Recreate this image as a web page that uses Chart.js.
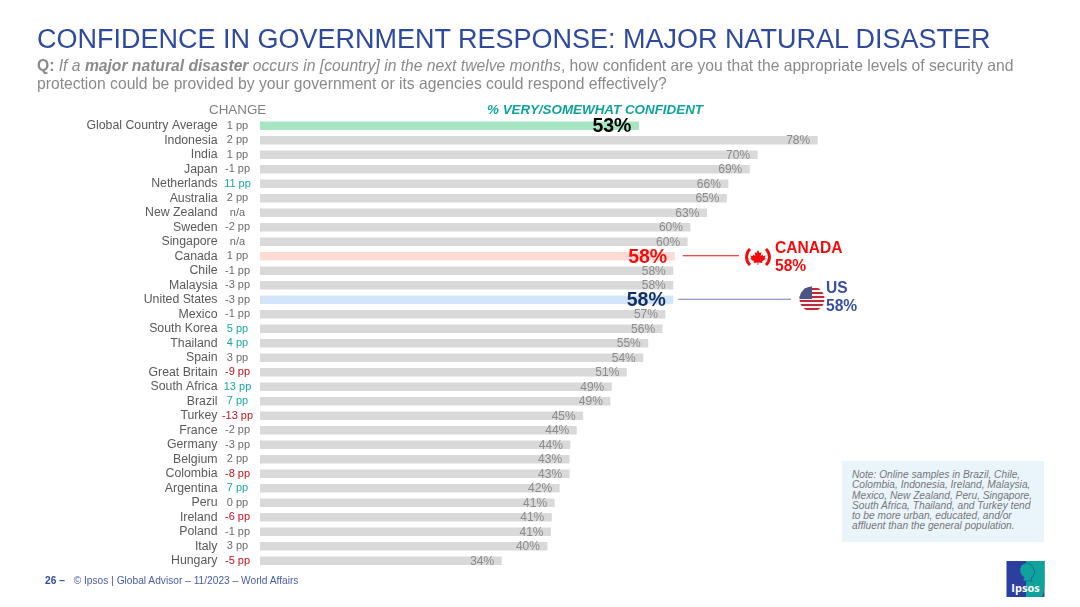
<!DOCTYPE html>
<html lang="en">

<head>
    <meta charset="UTF-8">
    <title>Confidence in government response: major natural disaster</title>
    <script src="https://cdn.jsdelivr.net/npm/chart.js"></script>
    <style>
        body { margin: 0; background: #fff; font-family: "Liberation Sans", Arial, sans-serif; }
        #page { position: relative; width: 1080px; height: 607px; overflow: hidden; }
        #chart { position: absolute; left: 0; top: 0; }
        .abs { position: absolute; white-space: nowrap; }
        #title { left: 37px; top: 24px; font-size: 27px; line-height: 30px; color: #2e4a9e; }
        #question { left: 37px; top: 57px; font-size: 15.67px; line-height: 18px; color: #8a8a8a; }
        #changeHead { left: 209px; top: 103px; font-size: 13.4px; line-height: 14px; color: #7f7f7f; }
        #valueHead { left: 487px; top: 103px; font-size: 13.4px; line-height: 14px; color: #0fa39b; font-weight: bold; font-style: italic; }
        .callout { font-size: 15.6px; line-height: 18px; font-weight: bold; }
        #canada { left: 775px; top: 239px; color: #f20d0d; }
        #us { left: 826px; top: 279px; color: #3a4f9f; }
        #note { left: 842px; top: 461px; width: 192px; height: 72px; padding: 9px 0 0 10px; background: #eaf4fb; color: #777; font-size: 10.2px; line-height: 10.3px; font-style: italic; }
        #footer { left: 45px; top: 575px; font-size: 10.2px; line-height: 12px; color: #4a5ca8; }
        #footer b { color: #2e4a9e; margin-right: 6px; }
    </style>
</head>

<body>
    <div id="page">
        <canvas id="chart" width="1080" height="607"></canvas>

        <div class="abs" id="title">CONFIDENCE IN GOVERNMENT RESPONSE: MAJOR NATURAL DISASTER</div>
        <div class="abs" id="question"><b>Q:</b> <i>If a <b>major natural disaster</b> occurs in [country] in the next twelve months</i>, how confident are you that the appropriate levels of security and<br>protection could be provided by your government or its agencies could respond effectively?</div>
        <div class="abs" id="changeHead">CHANGE</div>
        <div class="abs" id="valueHead">% VERY/SOMEWHAT CONFIDENT</div>

        <div class="abs callout" id="canada">CANADA<br>58%</div>
        <div class="abs callout" id="us">US<br>58%</div>

        <!-- flags -->
        <svg class="abs" style="left:745px;top:248px" width="26" height="18" viewBox="0 0 26 18">
            <path d="M5 1 A11 11 0 0 0 5 17" fill="none" stroke="#f20d0d" stroke-width="3" />
            <path d="M21 1 A11 11 0 0 1 21 17" fill="none" stroke="#f20d0d" stroke-width="3" />
            <path d="M13 2 L14.6 5 L16.4 4.2 L15.7 8 L17.6 6.4 L18.2 7.9 L20.6 7.5 L19.7 10 L20.8 10.7 L17 13.6 L17.4 15 L13.4 14.5 L13.4 17 L12.6 17 L12.6 14.5 L8.6 15 L9 13.6 L5.2 10.7 L6.3 10 L5.4 7.5 L7.8 7.9 L8.4 6.4 L10.3 8 L9.6 4.2 L11.4 5 Z" fill="#f20d0d" />
        </svg>
        <svg class="abs" style="left:799px;top:286px" width="26" height="26" viewBox="0 0 26 26">
            <defs><clipPath id="round"><circle cx="13" cy="13" r="12.5" /></clipPath></defs>
            <g clip-path="url(#round)">
                <rect width="26" height="26" fill="#f4f0f0" />
                <rect y="2" width="26" height="2" fill="#c0283c" />
                <rect y="6" width="26" height="2" fill="#c0283c" />
                <rect y="10" width="26" height="2" fill="#c0283c" />
                <rect y="14" width="26" height="2" fill="#c0283c" />
                <rect y="18" width="26" height="2" fill="#c0283c" />
                <rect y="22" width="26" height="2" fill="#c0283c" />
                <rect width="13" height="13" fill="#4a5585" />
            </g>
        </svg>

        <div class="abs" id="note">Note: Online samples in Brazil, Chile,<br>Colombia, Indonesia, Ireland, Malaysia,<br>Mexico, New Zealand, Peru, Singapore,<br>South Africa, Thailand, and Turkey tend<br>to be more urban, educated, and/or<br>affluent than the general population.</div>

        <div class="abs" id="footer"><b>26 –</b> © Ipsos | Global Advisor – 11/2023 – World Affairs</div>

        <!-- logo -->
        <svg class="abs" style="left:1006px;top:561px" width="39" height="36" viewBox="0 0 39 36">
            <rect x="0.5" width="38" height="36" fill="#2d3f9e" />
            <path d="M20 0 H38.5 V24 Q38 32 36 36 H20 Z" fill="#0fa39b" />
            <path d="M20 2 Q13 3 14 11 Q15 15 18 16 L17 20 H26 L25 17 Q28 16 28 13 L29 11 L28 9 Q27 3 20 2 Z" fill="#0fa39b" stroke="#2d3f9e" stroke-width="0.6" />
            <text x="19.5" y="30.5" text-anchor="middle" fill="#fff" font-size="11" font-weight="bold" font-family="Open Sans, Liberation Sans">Ipsos</text>
        </svg>
    </div>

    <script>
        const countries = ["Global Country Average", "Indonesia", "India", "Japan", "Netherlands", "Australia", "New Zealand", "Sweden", "Singapore", "Canada", "Chile", "Malaysia", "United States", "Mexico", "South Korea", "Thailand", "Spain", "Great Britain", "South Africa", "Brazil", "Turkey", "France", "Germany", "Belgium", "Colombia", "Argentina", "Peru", "Ireland", "Poland", "Italy", "Hungary"];

        // bar lengths as measured, the printed labels are rounded differently
        const barValues = [53, 78, 69.6, 68.5, 65.5, 65.3, 62.5, 60.2, 59.8, 58, 57.8, 57.8, 57.8, 56.7, 56.3, 54.3, 53.6, 51.3, 49.2, 49, 45.2, 44.3, 43.4, 43.3, 43.3, 41.9, 41.2, 40.8, 40.7, 40.2, 33.8];
        const printedValues = [53, 78, 70, 69, 66, 65, 63, 60, 60, 58, 58, 58, 58, 57, 56, 55, 54, 51, 49, 49, 45, 44, 44, 43, 43, 42, 41, 41, 41, 40, 34];
        const changes = [1, 2, 1, -1, 11, 2, null, -2, null, 1, -1, -3, -3, -1, 5, 4, 3, -9, 13, 7, -13, -2, -3, 2, -8, 7, 0, -6, -1, 3, -5];

        const barFills = { "Global Country Average": "#a6e6c3", "Canada": "#fddcd5", "United States": "#d3e5fb" };
        const bigLabels = { "Global Country Average": "#000000", "Canada": "#f20d0d", "United States": "#12305f" };

        function changeColor(c) {
            if (c === null) return "#6b6b6b";
            if (c >= 4) return "#1aa6a0";
            if (c <= -4) return "#c0141e";
            return "#6b6b6b";
        }

        // change column, value labels and the two callout lines
        const extras = {
            id: "extras",
            afterDatasetsDraw(chart) {
                const ctx = chart.ctx;
                const bars = chart.getDatasetMeta(0).data;
                ctx.save();
                ctx.textBaseline = "middle";
                bars.forEach((bar, i) => {
                    const big = bigLabels[countries[i]];
                    ctx.textAlign = "right";
                    ctx.font = big ? "bold 19.5px 'Liberation Sans'" : "12px 'Liberation Sans'";
                    ctx.fillStyle = big || "#8c8c8c";
                    ctx.fillText(printedValues[i] + "%", bar.x - 7.5, bar.y + (big ? 1 : 0.5));

                    const c = changes[i];
                    ctx.textAlign = "center";
                    ctx.font = "11px 'Liberation Sans'";
                    ctx.fillStyle = changeColor(c);
                    ctx.fillText(c === null ? "n/a" : c + " pp", 237.5, bar.y);
                });

                const canadaBar = bars[countries.indexOf("Canada")];
                const usBar = bars[countries.indexOf("United States")];
                ctx.lineWidth = 1;
                ctx.strokeStyle = "#f20d0d";
                ctx.beginPath();
                ctx.moveTo(canadaBar.x + 8, canadaBar.y - 0.5);
                ctx.lineTo(739, canadaBar.y - 0.5);
                ctx.stroke();
                ctx.strokeStyle = "#7080b8";
                ctx.beginPath();
                ctx.moveTo(usBar.x + 5, usBar.y - 0.5);
                ctx.lineTo(791, usBar.y - 0.5);
                ctx.stroke();
                ctx.restore();
            }
        };

        new Chart(document.getElementById("chart"), {
            type: "bar",
            data: {
                labels: countries,
                datasets: [{
                    data: barValues,
                    backgroundColor: c => barFills[countries[c.dataIndex]] || "#d9d9d9",
                    barPercentage: 0.59,
                    categoryPercentage: 1
                }]
            },
            plugins: [extras],
            options: {
                indexAxis: "y",
                responsive: false,
                animation: false,
                layout: { padding: { top: 118.5, bottom: 39, right: 105, left: 0 } },
                plugins: { legend: { display: false }, tooltip: { enabled: false } },
                scales: {
                    x: { display: false, min: 0, max: 100 },
                    y: {
                        // fixed gutter for the labels, no extra padding under the last row
                        afterFit(scale) {
                            scale.width = 260;
                            scale.paddingTop = 0;
                            scale.paddingBottom = 0;
                        },
                        border: { display: false },
                        grid: { display: false, drawTicks: false },
                        ticks: {
                            autoSkip: false,
                            padding: 42.5,
                            color: "#595959",
                            font: { family: "Liberation Sans", size: 12.3 }
                        }
                    }
                }
            }
        });
    </script>
</body>

</html>
